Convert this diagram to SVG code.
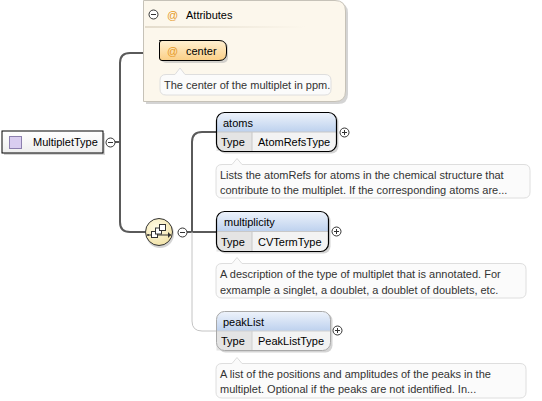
<svg xmlns="http://www.w3.org/2000/svg" width="542" height="401" viewBox="0 0 542 401">
<defs>
<linearGradient id="gHead" x1="0" y1="0" x2="0" y2="1"><stop offset="0" stop-color="#eef3fb"/><stop offset="1" stop-color="#bdd1ee"/></linearGradient>
<linearGradient id="gAttr" x1="0" y1="0" x2="0" y2="1"><stop offset="0" stop-color="#fff0d2"/><stop offset="1" stop-color="#fbcf86"/></linearGradient>
<linearGradient id="gRoot" x1="0" y1="0" x2="0" y2="1"><stop offset="0" stop-color="#ffffff"/><stop offset="1" stop-color="#eeeeee"/></linearGradient>
<radialGradient id="gComp" cx="0.4" cy="0.35" r="0.7"><stop offset="0" stop-color="#fffbe6"/><stop offset="1" stop-color="#f1e2a6"/></radialGradient>
<linearGradient id="gSep" x1="0" y1="0" x2="1" y2="0"><stop offset="0" stop-color="#e4dccc"/><stop offset="1" stop-color="#e4dccc" stop-opacity="0"/></linearGradient>
</defs>
<style>
text{font-family:"Liberation Sans",Arial,sans-serif;font-size:11px;fill:#000}
.desc{fill:#333}
.at{fill:#e69a28}
.shadow{fill:#b8b8b8;opacity:0.6}
.dbox{fill:#fbfbfb;stroke:#dedede;stroke-width:1}
.pm{fill:#fff;stroke:#333;stroke-width:1}
.pmline{stroke:#333;stroke-width:1}
.conn{fill:none;stroke:#5a5a5a;stroke-width:2}
.connopt{fill:none;stroke:#c4c4c4;stroke-width:1}
</style>

<g id="connectors">
<path class="conn" d="M115 142 H120"/>
<path class="conn" d="M143 53 H130 Q120 53 120 63 V222 Q120 232 130 232 H145"/>
<path class="conn" d="M187 232 H216"/>
<path class="conn" d="M216 132 H202 Q192 132 192 142 V232"/>
<path class="connopt" d="M192 232 V321 Q192 331 202 331 H216"/>
</g>

<g id="MultipletType">
<rect class="shadow" x="4" y="133" width="101" height="22"/>
<rect x="2" y="131" width="101" height="22" fill="url(#gRoot)" stroke="#000" stroke-width="1"/>
<rect x="9.5" y="136.5" width="12" height="12" fill="#d9cdf0" stroke="#8c7fae" stroke-width="1"/>
<text x="33" y="146">MultipletType</text>
<circle class="pm" cx="110.5" cy="142.5" r="4.5"/>
<path class="pmline" d="M108 142.5 H113"/>
</g>

<g id="Attributes">
<path class="shadow" d="M146 3 H338 Q348 3 348 13 V94 Q348 104 338 104 H146 Z"/>
<path d="M143.5 0.5 H335 Q345.5 0.5 345.5 11 V91 Q345.5 101.5 335 101.5 H143.5 Z" fill="#fcf7ec" stroke="#c6c2b8" stroke-width="1"/>
<rect x="145" y="26" width="160" height="2" fill="url(#gSep)"/>
<circle class="pm" cx="153.5" cy="14.5" r="4.5"/>
<path class="pmline" d="M151 14.5 H156"/>
<text class="at" x="167" y="19">@</text>
<text x="186" y="19">Attributes</text>
</g>

<g id="center">
<rect class="shadow" x="161" y="42" width="67" height="21" rx="5"/>
<path d="M159.5 40.5 H219 Q226.5 40.5 226.5 48 V53 Q226.5 60.5 219 60.5 H162 Q159.5 60.5 159.5 58 V43 Q159.5 40.5 162 40.5 Z" fill="url(#gAttr)" stroke="#000" stroke-width="1"/>
<text class="at" x="167" y="55">@</text>
<text x="186" y="55">center</text>
</g>

<g id="center-desc">
<path class="dbox" d="M166 74.5 H175 L180 68 L185 74.5 H325 Q331 74.5 331 80.5 V89 Q331 95 325 95 H166 Q160 95 160 89 V80.5 Q160 74.5 166 74.5 Z"/>
<text class="desc" x="164" y="89">The center of the multiplet in ppm.</text>
</g>

<g id="sequence">
<circle cx="160" cy="234" r="14" fill="#aaa" opacity="0.5"/>
<circle cx="159" cy="232" r="13.5" fill="url(#gComp)" stroke="#333" stroke-width="1"/>
<path d="M148 235 H171" stroke="#333" stroke-width="1"/>
<circle cx="148" cy="235" r="1" fill="#333"/>
<rect x="151.5" y="231.5" width="6" height="6" fill="#fff" stroke="#333"/>
<rect x="155.5" y="228" width="6" height="6" fill="#fff" stroke="#333"/>
<rect x="159.5" y="224.5" width="6" height="6" fill="#fff" stroke="#333"/>
<path d="M168 232 L171 235 L168 238 Z" fill="#333"/>
<circle class="pm" cx="182.5" cy="232.5" r="4.5"/>
<path class="pmline" d="M180 232.5 H185"/>
</g>

<g id="atoms">
<rect class="shadow" x="218.5" y="114.5" width="120" height="39" rx="7"/>
<path d="M216.5 122 Q216.5 112.5 226 112.5 H326 Q336.5 112.5 336.5 122 V132 H216.5 Z" fill="url(#gHead)"/>
<rect x="216.5" y="132" width="35.5" height="19" fill="#e4e4e4"/>
<path d="M252 132 H336.5 V143 Q336.5 151.5 328 151.5 H252 Z" fill="#f3f3f3"/>
<path d="M216.5 132 H336.5 M252 132 V151.5" stroke="#c8c8c8" stroke-width="1" fill="none"/>
<rect x="216.5" y="112.5" width="120" height="39" rx="8" fill="none" stroke="#000" stroke-width="1.2"/>
<text x="223" y="127">atoms</text>
<text x="221" y="146">Type</text>
<text x="258" y="146">AtomRefsType</text>
<circle class="pm" cx="344.5" cy="132.5" r="4.5"/>
<path class="pmline" d="M342 132.5 H347 M344.5 130 V135"/>
</g>

<g id="atoms-desc">
<path class="dbox" d="M222 164.5 H232 L237 158.5 L242 164.5 H524 Q530 164.5 530 170.5 V192 Q530 198 524 198 H222 Q216 198 216 192 V170.5 Q216 164.5 222 164.5 Z"/>
<text class="desc" x="220" y="179">Lists the atomRefs for atoms in the chemical structure that</text>
<text class="desc" x="220" y="194">contribute to the multiplet. If the corresponding atoms are...</text>
</g>

<g id="multiplicity">
<rect class="shadow" x="218.5" y="213.5" width="112" height="40" rx="7"/>
<path d="M216.5 221 Q216.5 211.5 226 211.5 H318 Q328.5 211.5 328.5 221 V231.5 H216.5 Z" fill="url(#gHead)"/>
<rect x="216.5" y="231.5" width="35.5" height="20" fill="#e4e4e4"/>
<path d="M252 231.5 H328.5 V243 Q328.5 251.5 320 251.5 H252 Z" fill="#f3f3f3"/>
<path d="M216.5 231.5 H328.5 M252 231.5 V251.5" stroke="#c8c8c8" stroke-width="1" fill="none"/>
<rect x="216.5" y="211.5" width="112" height="40" rx="8" fill="none" stroke="#000" stroke-width="1.2"/>
<text x="224" y="226">multiplicity</text>
<text x="221" y="246">Type</text>
<text x="258" y="246">CVTermType</text>
<circle class="pm" cx="336.5" cy="231.5" r="4.5"/>
<path class="pmline" d="M334 231.5 H339 M336.5 229 V234"/>
</g>

<g id="multiplicity-desc">
<path class="dbox" d="M222 263.5 H232 L237 257.5 L242 263.5 H520 Q526 263.5 526 269.5 V292 Q526 298 520 298 H222 Q216 298 216 292 V269.5 Q216 263.5 222 263.5 Z"/>
<text class="desc" x="220" y="278">A description of the type of multiplet that is annotated. For</text>
<text class="desc" x="220" y="294">exmample a singlet, a doublet, a doublet of doublets, etc.</text>
</g>

<g id="peakList">
<rect class="shadow" x="218.5" y="313.5" width="114" height="39" rx="7"/>
<path d="M216.5 321 Q216.5 311.5 226 311.5 H320 Q330.5 311.5 330.5 321 V331 H216.5 Z" fill="url(#gHead)"/>
<rect x="216.5" y="331" width="35.5" height="19.5" fill="#e4e4e4"/>
<path d="M252 331 H330.5 V342 Q330.5 350.5 322 350.5 H252 Z" fill="#f3f3f3"/>
<path d="M216.5 331 H330.5 M252 331 V350.5" stroke="#d0d0d0" stroke-width="1" fill="none"/>
<rect x="216.5" y="311.5" width="114" height="39" rx="8" fill="none" stroke="#a8a8a8" stroke-width="1"/>
<text x="223" y="326">peakList</text>
<text x="221" y="345">Type</text>
<text x="258" y="345">PeakListType</text>
<circle class="pm" cx="337.5" cy="330.5" r="4.5"/>
<path class="pmline" d="M335 330.5 H340 M337.5 328 V333"/>
</g>

<g id="peakList-desc">
<path class="dbox" d="M222 363.5 H232 L237 357.5 L242 363.5 H520 Q526 363.5 526 369.5 V392 Q526 398 520 398 H222 Q216 398 216 392 V369.5 Q216 363.5 222 363.5 Z"/>
<text class="desc" x="220" y="378">A list of the positions and amplitudes of the peaks in the</text>
<text class="desc" x="220" y="393">multiplet. Optional if the peaks are not identified. In...</text>
</g>
</svg>
